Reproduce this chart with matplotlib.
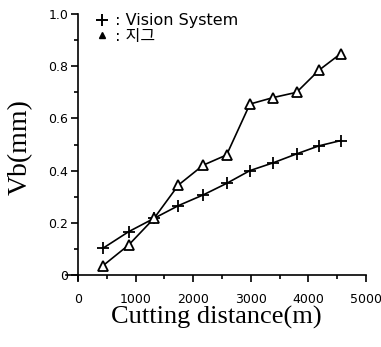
import numpy as np
import matplotlib.pyplot as plt
from matplotlib.lines import Line2D
from matplotlib.ticker import MultipleLocator

# values
dist = [430, 880, 1320, 1745, 2175, 2580, 2985, 3390, 3795, 4185, 4560]
vb_vision = [0.102, 0.166, 0.217, 0.266, 0.307, 0.351, 0.400, 0.430, 0.464, 0.495, 0.515]
vb_jig = [0.035, 0.115, 0.217, 0.345, 0.421, 0.460, 0.655, 0.680, 0.700, 0.785, 0.848]
labels = [' : Vision System', ' : 지그']

fig = plt.figure(figsize=(3.81, 3.47), dpi=100)
ax = fig.add_axes([0.1745, 0.1925, 0.786, 0.767])

ax.plot(dist, vb_vision, color='black', lw=1.2, marker='+', ms=9, mew=1.3)
ax.plot(dist, vb_jig, color='black', lw=1.2, marker='^', ms=6.5, mfc='white', mec='black', mew=1.3)

ax.set_xlim(-200, 5000)
ax.set_ylim(-0.02, 1.0)
ax.spines['left'].set_position(('data', 0))
ax.spines['bottom'].set_position(('data', 0))
ax.spines['right'].set_visible(False)
ax.spines['top'].set_visible(False)
for s in ['left', 'bottom']:
    ax.spines[s].set_linewidth(1.2)

ax.set_xticks([0, 1000, 2000, 3000, 4000, 5000])
ax.set_xticklabels(['0', '1000', '2000', '3000', '4000', '5000'])
ax.xaxis.set_minor_locator(MultipleLocator(500))
ax.set_yticks([0, 0.2, 0.4, 0.6, 0.8, 1.0])
ax.set_yticklabels(['0', '0.2', '0.4', '0.6', '0.8', '1.0'])
ax.yaxis.set_minor_locator(MultipleLocator(0.1))
ax.tick_params(which='major', direction='out', length=5, width=1.2, labelsize=9)
ax.tick_params(which='minor', direction='out', length=3, width=1.2)
ax.tick_params(axis='x', pad=8)
ax.tick_params(axis='y', pad=2)

ax.set_xlabel('Cutting distance(m)', family='Liberation Serif', fontsize=19, labelpad=0)
ax.set_ylabel('Vb(mm)', family='Liberation Serif', fontsize=20, labelpad=11)

handles = [Line2D([], [], ls='none', marker='+', ms=8, mew=1.4, color='black'),
           Line2D([], [], ls='none', marker='^', ms=5, color='black')]
leg = ax.legend(handles, labels, loc='upper left', bbox_to_anchor=(0.065, 1.045),
                frameon=False, handlelength=0.6, handletextpad=0.2, labelspacing=0.05,
                borderpad=0.2, prop={'family': ['DejaVu Sans', 'Noto Sans CJK KR'], 'size': 11.5})

fig.savefig('out.png', dpi=100)
